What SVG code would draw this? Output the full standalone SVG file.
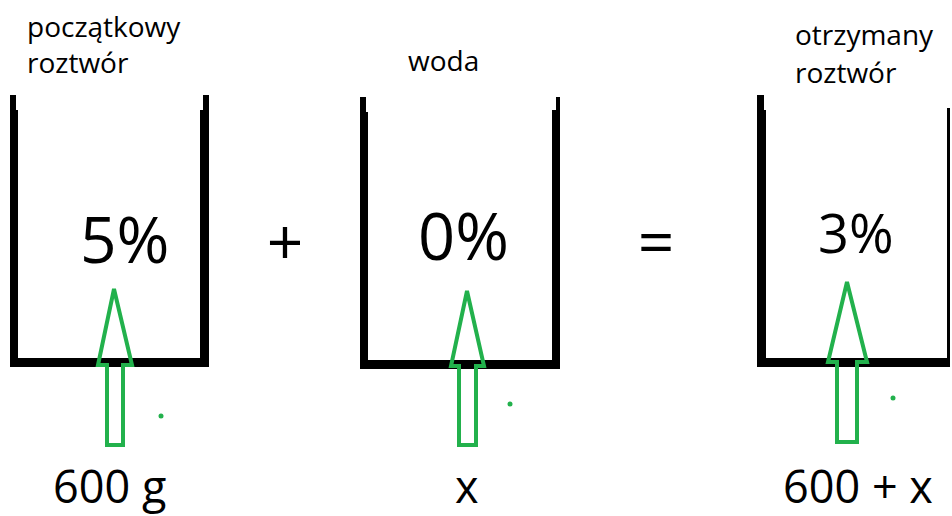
<svg xmlns="http://www.w3.org/2000/svg" width="952" height="516" viewBox="0 0 952 516">
<style>
text{font-family:"Open Sans","Liberation Sans",sans-serif;fill:#000}
.lbl{font-size:28px}
.big{font-size:64px}
.val{font-size:45px}
.beaker{fill:#000}
.arrow{fill:none;stroke:#22b14c;stroke-width:4;stroke-linejoin:miter}
.dot{fill:#22b14c}
</style>
<rect width="952" height="516" fill="#fff"/>
<g id="beaker1">
<path class="beaker" d="M10,95 H16 V110 H18 V358 H200 V110 H203 V95 H209 V367 H10 Z"/>
<text class="lbl" x="27" y="37">początkowy</text>
<text class="lbl" x="27" y="73">roztwór</text>
<text class="big" x="80" y="263">5%</text>
<text class="val" x="53" y="503">600 g</text>
</g>
<g id="beaker2">
<path class="beaker" d="M360,97 H366 V112 H368 V360 H552 V110 H556 V97 H560 V369 H360 Z"/>
<text class="lbl" x="408" y="71">woda</text>
<text class="big" x="418" y="260" style="font-size:65px">0%</text>
<text class="val" x="455" y="503">x</text>
</g>
<g id="beaker3">
<path class="beaker" d="M757,95 H764 V110 H766 V358 H947 V108 H950 V367 H757 Z"/>
<text class="lbl" x="795" y="45">otrzymany</text>
<text class="lbl" x="795" y="83">roztwór</text>
<text class="big" x="818" y="253" style="font-size:54px">3%</text>
<text class="val" x="783" y="503">600 + x</text>
</g>
<g id="operators">
<text class="big" x="285" y="265" text-anchor="middle">+</text>
<text class="big" x="656" y="265" text-anchor="middle">=</text>
</g>
<g id="connectors">
<polygon class="arrow" points="114,289 132,365 123,365 123,445 107,445 107,365 98,365"/>
<polygon class="arrow" points="467,291 484,366 476,366 476,445 459,445 459,366 451,366"/>
<polygon class="arrow" points="847,282 867,362 857,362 857,442 837,442 837,362 828,362"/>
<circle class="dot" cx="161" cy="416" r="2.5"/>
<circle class="dot" cx="510" cy="404" r="2.5"/>
<circle class="dot" cx="893" cy="398" r="2.5"/>
</g>
</svg>
